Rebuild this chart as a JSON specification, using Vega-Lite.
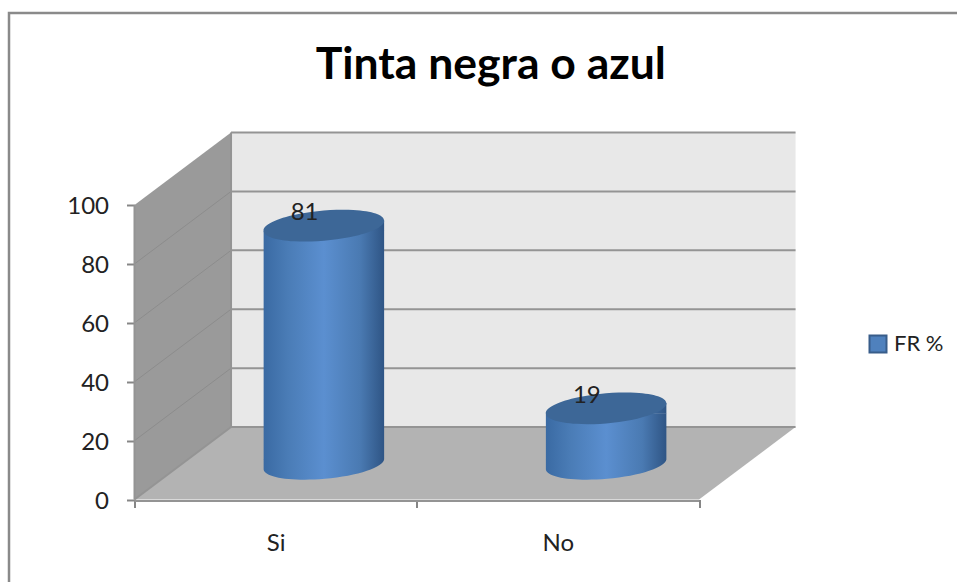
{
  "$schema": "https://vega.github.io/schema/vega-lite/v6.json",
  "width": 822.5, "height": 399.5,
  "autosize": {"type": "none"},
  "padding": {"left": 134.5, "top": 100, "right": 0, "bottom": 82.5},
  "background": "white",
  "config": {"view": {"stroke": null}, "font": "Lato"},
  "title": {"text": "Tinta negra o azul", "font": "Lato", "fontSize": 44.5, "fontWeight": "bold", "color": "#000000", "anchor": "middle", "dx": -55, "offset": -81, "frame": "group"},
  "datasets": {
    "results": [
      {"category": "Si", "value": 81, "series": "FR %"},
      {"category": "No", "value": 19, "series": "FR %"}
    ],
    "back": [{"x": 0.342, "lo": 24.6, "hi": 124.6}, {"x": 2.342, "lo": 24.6, "hi": 124.6}],
    "side": [{"x": 0, "lo": 0, "hi": 100}, {"x": 0.342, "lo": 24.6, "hi": 124.6}],
    "floor": [
      {"x": 0, "lo": 0, "hi": 0}, {"x": 0.342, "lo": 0, "hi": 24.6},
      {"x": 2, "lo": 0, "hi": 24.6}, {"x": 2.342, "lo": 24.6, "hi": 24.6}
    ],
    "sideGrid": [
      {"g": 20, "i": 0, "x": 0, "y": 20}, {"g": 20, "i": 1, "x": 0.342, "y": 44.6},
      {"g": 40, "i": 0, "x": 0, "y": 40}, {"g": 40, "i": 1, "x": 0.342, "y": 64.6},
      {"g": 60, "i": 0, "x": 0, "y": 60}, {"g": 60, "i": 1, "x": 0.342, "y": 84.6},
      {"g": 80, "i": 0, "x": 0, "y": 80}, {"g": 80, "i": 1, "x": 0.342, "y": 104.6}
    ],
    "edges": [
      {"g": "b0", "i": 0, "x": 0.342, "y": 24.6}, {"g": "b0", "i": 1, "x": 2.342, "y": 24.6},
      {"g": "b20", "i": 0, "x": 0.342, "y": 44.6}, {"g": "b20", "i": 1, "x": 2.342, "y": 44.6},
      {"g": "b40", "i": 0, "x": 0.342, "y": 64.6}, {"g": "b40", "i": 1, "x": 2.342, "y": 64.6},
      {"g": "b60", "i": 0, "x": 0.342, "y": 84.6}, {"g": "b60", "i": 1, "x": 2.342, "y": 84.6},
      {"g": "b80", "i": 0, "x": 0.342, "y": 104.6}, {"g": "b80", "i": 1, "x": 2.342, "y": 104.6},
      {"g": "b100", "i": 0, "x": 0.342, "y": 124.6}, {"g": "b100", "i": 1, "x": 2.342, "y": 124.6},
      {"g": "front", "i": 0, "x": 0, "y": -0.5}, {"g": "front", "i": 1, "x": 2, "y": -0.5},
      {"g": "left", "i": 0, "x": 0, "y": 0}, {"g": "left", "i": 1, "x": 0, "y": 100},
      {"g": "rear", "i": 0, "x": 0, "y": 0}, {"g": "rear", "i": 1, "x": 0.342, "y": 24.6},
      {"g": "corner", "i": 0, "x": 0.342, "y": 24.6}, {"g": "corner", "i": 1, "x": 0.342, "y": 124.6}
    ],
    "frame": [
      {"i": 0, "x": -0.4446, "y": -28.5}, {"i": 1, "x": -0.4446, "y": 165.2}, {"i": 2, "x": 2.92, "y": 165.2}
    ]
  },
  "resolve": {"scale": {"x": "independent"}},
  "layer": [
    {
      "data": {"name": "back"},
      "mark": {"type": "area", "fill": "#e8e8e8"},
      "encoding": {
        "x": {"field": "x", "type": "quantitative", "axis": null, "scale": {"domain": [0, 2.914], "nice": false, "zero": false}},
        "y": {"field": "lo", "type": "quantitative", "stack": null, "scale": {"domain": [0, 135.65], "nice": false},
          "axis": {"title": null, "values": [0, 20, 40, 60, 80, 100], "domain": false, "grid": false, "tickSize": 8, "tickWidth": 2, "tickColor": "#868686", "labelFont": "Lato", "labelFontSize": 24, "labelColor": "#222222", "labelPadding": 18, "labelBaseline": "middle", "labelOffset": 2}},
        "y2": {"field": "hi"}
      }
    },
    {
      "data": {"name": "side"},
      "mark": {"type": "area", "fill": "#9a9a9a"},
      "encoding": {
        "x": {"field": "x", "type": "quantitative", "axis": null, "scale": {"domain": [0, 2.914], "nice": false, "zero": false}},
        "y": {"field": "lo", "type": "quantitative", "stack": null},
        "y2": {"field": "hi"}
      }
    },
    {
      "data": {"name": "floor"},
      "mark": {"type": "area", "fill": "#b3b3b3"},
      "encoding": {
        "x": {"field": "x", "type": "quantitative", "axis": null, "scale": {"domain": [0, 2.914], "nice": false, "zero": false}},
        "y": {"field": "lo", "type": "quantitative", "stack": null},
        "y2": {"field": "hi"}
      }
    },
    {
      "data": {"name": "sideGrid"},
      "mark": {"type": "line", "stroke": "#8c8c8c", "strokeWidth": 1},
      "encoding": {
        "x": {"field": "x", "type": "quantitative", "axis": null, "scale": {"domain": [0, 2.914], "nice": false, "zero": false}},
        "y": {"field": "y", "type": "quantitative"},
        "detail": {"field": "g"},
        "order": {"field": "i"}
      }
    },
    {
      "data": {"name": "edges"},
      "mark": {"type": "line", "stroke": "#949494", "strokeWidth": 2},
      "encoding": {
        "x": {"field": "x", "type": "quantitative", "axis": null, "scale": {"domain": [0, 2.914], "nice": false, "zero": false}},
        "y": {"field": "y", "type": "quantitative"},
        "detail": {"field": "g"},
        "order": {"field": "i"}
      }
    },
    {
      "data": {"name": "frame"},
      "mark": {"type": "line", "stroke": "#8a8a8a", "strokeWidth": 2.5},
      "encoding": {
        "x": {"field": "x", "type": "quantitative", "axis": null, "scale": {"domain": [0, 2.914], "nice": false, "zero": false}},
        "y": {"field": "y", "type": "quantitative"},
        "order": {"field": "i"}
      }
    },
    {
      "data": {"name": "results"},
      "mark": {"type": "point", "filled": true, "opacity": 1, "size": 4, "strokeWidth": 0, "xOffset": 48.25, "yOffset": -35.25,
        "shape": "M-60.25,-5.2 L60.25,-5.2 A60.48,14.8 -5 0 1 -60.25,5.2 Z",
        "fill": {"gradient": "linear", "x1": 0, "y1": 0, "x2": 1, "y2": 0, "stops": [{"offset": 0, "color": "#3a6aa3"}, {"offset": 0.2, "color": "#4a7cb6"}, {"offset": 0.5, "color": "#5b8fd0"}, {"offset": 0.8, "color": "#4a7ab2"}, {"offset": 1, "color": "#2f5585"}]}},
      "encoding": {
        "x": {"field": "category", "type": "nominal", "axis": null, "scale": {"domain": ["Si", "No"], "range": [0, 564.5], "paddingInner": 0, "paddingOuter": 0}, "sort": null},
        "y": {"datum": 0, "type": "quantitative"}
      }
    },
    {
      "data": {"name": "results"},
      "mark": {"type": "bar", "size": 120.5, "xOffset": 48.25, "yOffset": -30.25, "y2Offset": -40.25,
        "fill": {"gradient": "linear", "x1": 0, "y1": 0, "x2": 1, "y2": 0, "stops": [{"offset": 0, "color": "#3a6aa3"}, {"offset": 0.2, "color": "#4a7cb6"}, {"offset": 0.5, "color": "#5b8fd0"}, {"offset": 0.8, "color": "#4a7ab2"}, {"offset": 1, "color": "#2f5585"}]}},
      "encoding": {
        "x": {"field": "category", "type": "nominal", "sort": null, "scale": {"domain": ["Si", "No"], "range": [0, 564.5], "paddingInner": 0, "paddingOuter": 0},
          "axis": {"title": null, "labelAngle": 0, "tickBand": "extent", "domain": false, "grid": false, "tickSize": 8, "tickWidth": 2, "tickColor": "#868686", "labelFont": "Lato", "labelFontSize": 24, "labelColor": "#222222", "labelPadding": 24}},
        "y": {"field": "value", "type": "quantitative", "stack": null},
        "y2": {"datum": 0}
      }
    },
    {
      "data": {"name": "results"},
      "mark": {"type": "point", "filled": true, "opacity": 1, "size": 4, "strokeWidth": 0, "xOffset": 48.25, "yOffset": -35.25,
        "shape": "M-60.25,5.2 L60.25,-5.2 L60.25,5.2 Z",
        "fill": {"gradient": "linear", "x1": 0, "y1": 0, "x2": 1, "y2": 0, "stops": [{"offset": 0, "color": "#3a6aa3"}, {"offset": 0.2, "color": "#4a7cb6"}, {"offset": 0.5, "color": "#5b8fd0"}, {"offset": 0.8, "color": "#4a7ab2"}, {"offset": 1, "color": "#2f5585"}]}},
      "encoding": {
        "x": {"field": "category", "type": "nominal", "axis": null, "sort": null, "scale": {"domain": ["Si", "No"], "range": [0, 564.5], "paddingInner": 0, "paddingOuter": 0}},
        "y": {"field": "value", "type": "quantitative"}
      }
    },
    {
      "data": {"name": "results"},
      "mark": {"type": "point", "filled": true, "opacity": 1, "size": 4, "strokeWidth": 0, "xOffset": 48.25, "yOffset": -35.25,
        "shape": "M-50,0 A50,10 -5 1 1 50,0 A50,10 -5 1 1 -50,0 Z"},
      "encoding": {
        "x": {"field": "category", "type": "nominal", "axis": null, "sort": null, "scale": {"domain": ["Si", "No"], "range": [0, 564.5], "paddingInner": 0, "paddingOuter": 0}},
        "y": {"field": "value", "type": "quantitative"},
        "color": {"field": "series", "type": "nominal", "scale": {"domain": ["FR %"], "range": ["#4f81bd"]},
          "legend": {"title": null, "orient": "none", "legendX": 732.5, "legendY": 233, "padding": 0, "symbolType": "square", "symbolSize": 289, "symbolStrokeColor": "#385d8a", "symbolStrokeWidth": 2, "labelFont": "Lato", "labelFontSize": 22, "labelColor": "#222222", "labelOffset": 5}}
      }
    },
    {
      "data": {"name": "results"},
      "mark": {"type": "point", "filled": true, "opacity": 1, "size": 4, "strokeWidth": 0, "xOffset": 48.25, "yOffset": -35.25, "fill": "#3d6797",
        "shape": "M-60.25,5.2 A60.48,14.8 -5 1 1 60.25,-5.2 A60.48,14.8 -5 1 1 -60.25,5.2 Z"},
      "encoding": {
        "x": {"field": "category", "type": "nominal", "axis": null, "sort": null, "scale": {"domain": ["Si", "No"], "range": [0, 564.5], "paddingInner": 0, "paddingOuter": 0}},
        "y": {"field": "value", "type": "quantitative"}
      }
    },
    {
      "data": {"name": "results"},
      "mark": {"type": "text", "font": "Lato", "fontSize": 24, "color": "#222222", "xOffset": 29, "yOffset": -47.5, "baseline": "middle", "align": "center"},
      "encoding": {
        "x": {"field": "category", "type": "nominal", "axis": null, "sort": null, "scale": {"domain": ["Si", "No"], "range": [0, 564.5], "paddingInner": 0, "paddingOuter": 0}},
        "y": {"field": "value", "type": "quantitative"},
        "text": {"field": "value", "type": "quantitative"}
      }
    }
  ]
}
